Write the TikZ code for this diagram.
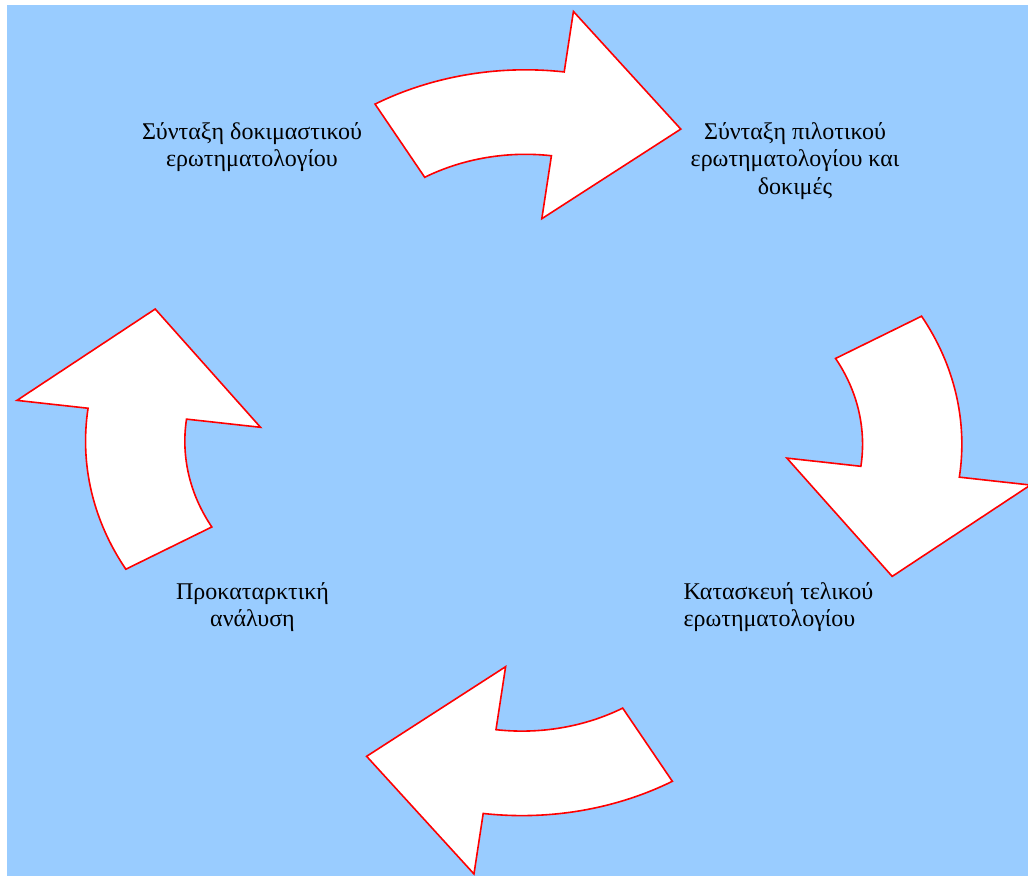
\documentclass[tikz,border=0pt]{standalone}
\usepackage{fontspec}
\setmainfont{Liberation Serif}
\definecolor{skyfill}{HTML}{99CCFF}
\tikzset{
  cyclearrow/.style={draw=red, fill=white, line width=1.6pt, line join=miter},
  steplabel/.style={font=\fontsize{24}{27.4}\selectfont, inner sep=0pt, text=black},
}
\begin{document}
\begin{tikzpicture}[x=1pt, y=1pt]
  \useasboundingbox (0,0) rectangle (1028,-876);
  % background panel
  \fill[skyfill] (7,-5) rectangle (1028,-876);

  % four curved arrows around the cycle centre
  \begin{scope}[shift={(523.7,-442.7)}, xscale=1.175]
    \foreach \k in {0,1,2,3} {
      \begin{scope}[rotate=-90*\k, shift={(1.5,116.9)}]
        \draw[cyclearrow] (120:256) arc[start angle=120, end angle=82.6, radius=256]
          -- (82.6:317) -- (56.1:237) -- (82.6:108) -- (82.6:171.5)
          arc[start angle=82.6, end angle=120, radius=171.5] -- cycle;
      \end{scope}
    }
  \end{scope}

  % step labels
  \node[steplabel, align=center] (s1) at (252,-147) {Σύνταξη δοκιμαστικού\\ερωτηματολογίου};
  \node[steplabel, align=center] (s2) at (795,-161) {Σύνταξη πιλοτικού\\ερωτηματολογίου και\\δοκιμές};
  \node[steplabel, align=left, anchor=west] (s3) at (683.3,-607) {Κατασκευή τελικού\\ερωτηματολογίου};
  \node[steplabel, align=center] (s4) at (252.5,-607) {Προκαταρκτική\\ανάλυση};
\end{tikzpicture}
\end{document}
